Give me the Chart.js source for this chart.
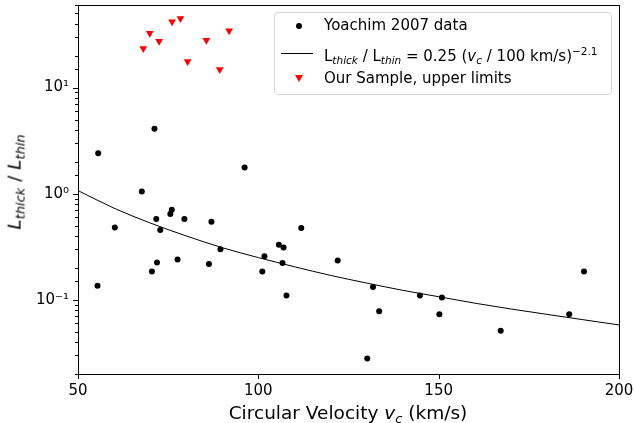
<!DOCTYPE html>
<html>
<head>
<meta charset="utf-8">
<script src="https://cdn.jsdelivr.net/npm/chart.js@4/dist/chart.umd.min.js"></script>
<style>
    html, body { margin: 0; padding: 0; background: #fff; }
    #wrap { position: relative; width: 634px; height: 423px; font-family: 'DejaVu Sans', sans-serif; }
    #chart { position: absolute; left: 0; top: 0; }
    .legend {
        position: absolute; left: 274px; top: 12px; width: 338px; height: 83px;
        border: 1px solid #d6d6d6; border-radius: 4px; background: rgba(255,255,255,0.8);
        box-sizing: border-box; font-size: 15px; color: #000;
    }
    .row { position: absolute; left: 49px; white-space: nowrap; line-height: 17px; }
    .mark { position: absolute; }
    .xlabel { position: absolute; left: 0; width: 696px; top: 402px; text-align: center; font-size: 18.5px; line-height: 21px; }
    .ylabel {
        position: absolute; left: 17px; top: 182px; font-size: 18.5px; line-height: 21px; white-space: nowrap;
        transform: translate(-50%, -50%) rotate(-90deg);
    }
    sub { font-size: 70%; vertical-align: -0.3em; }
    sup { font-size: 70%; vertical-align: 0.55em; }
</style>
</head>
<body>
<div id="wrap">
    <canvas id="chart" width="634" height="423"></canvas>
    <div class="legend">
        <div class="mark" style="left:21px;top:10px;width:6px;height:6px;border-radius:50%;background:#000;"></div>
        <div class="row" style="top:4px;">Yoachim 2007 data</div>
        <div class="mark" style="left:6px;top:40px;width:32px;height:1px;background:#000;"></div>
        <div class="row" style="top:30px;">L<sub><i>thick</i></sub> / L<sub><i>thin</i></sub> = 0.25 (<i>v<sub>c</sub></i> / 100 km/s)<sup>−2.1</sup></div>
        <div class="mark" style="left:20px;top:62px;width:0;height:0;border-left:4px solid transparent;border-right:4px solid transparent;border-top:7px solid #f00;"></div>
        <div class="row" style="top:57px;">Our Sample, upper limits</div>
    </div>
    <div class="xlabel">Circular Velocity <i>v<sub>c</sub></i> (km/s)</div>
    <div class="ylabel"><i>L<sub>thick</sub></i> / <i>L<sub>thin</sub></i></div>
</div>
<script>
// Yoachim 2007 data
const yoachimV = [55.6, 71.2, 67.7, 96.2, 60.2, 55.4, 71.7, 72.8, 70.5, 71.9, 75.6, 76.0, 77.6, 79.5,
    87.0, 86.3, 89.5, 101.1, 101.7, 105.7, 107.0, 106.7, 107.8, 111.9, 122.0, 131.8, 133.5, 130.2,
    144.8, 150.2, 150.9, 167.2, 186.2, 190.3];
const yoachimRatio = [2.4, 4.1, 1.05, 1.77, 0.48, 0.136, 0.577, 0.454, 0.185, 0.225, 0.643, 0.706, 0.24, 0.577,
    0.544, 0.217, 0.30, 0.185, 0.258, 0.33, 0.312, 0.222, 0.11, 0.475, 0.235, 0.132, 0.078, 0.028,
    0.11, 0.073, 0.105, 0.051, 0.073, 0.185];

// our sample, upper limits
const sampleV = [68.1, 69.9, 72.5, 76.1, 78.4, 80.4, 85.6, 89.3, 91.9];
const sampleRatio = [23.3, 32.5, 27.3, 41.7, 44.8, 17.6, 27.9, 14.8, 34.3];

// fitted relation as drawn
const fitV = [50, 60, 70, 80, 90, 100, 110, 120, 130, 140, 150, 160, 170, 180, 190, 200];
const fitRatio = [1.07, 0.73, 0.53, 0.40, 0.31, 0.25, 0.205, 0.17, 0.144, 0.123, 0.107, 0.093, 0.082, 0.073, 0.065, 0.058];

const xTicks = [50, 100, 150, 200];

const toPoints = (xs, ys) => xs.map((x, i) => ({ x, y: ys[i] }));
const isDecade = v => Math.abs(Math.log10(v) - Math.round(Math.log10(v))) < 1e-6;
const supers = { '-': '⁻', '0': '⁰', '1': '¹', '2': '²', '3': '³' };

// pin the plot box where the reference has it
const AREA = { left: 78, top: 5, right: 619, bottom: 374 };

const pinArea = {
    id: 'pinArea',
    afterLayout(chart) {
        const a = chart.chartArea;
        Object.assign(a, AREA);
        a.width = AREA.right - AREA.left;
        a.height = AREA.bottom - AREA.top;
        const { x, y } = chart.scales;
        x.left = AREA.left; x.right = AREA.right; x.width = a.width;
        x.top = AREA.bottom; x.bottom = 423; x.height = 423 - AREA.bottom;
        y.top = AREA.top; y.bottom = AREA.bottom; y.height = a.height;
        y.left = 0; y.right = AREA.left; y.width = AREA.left;
        x.configure(); y.configure();
    }
};

// spines + tick marks in matplotlib style
const frameTicks = {
    id: 'frameTicks',
    afterDraw(chart) {
        const { ctx, chartArea: a, scales } = chart;
        ctx.save();
        ctx.strokeStyle = '#000';
        ctx.lineWidth = 1;
        ctx.strokeRect(Math.round(a.left) + 0.5, Math.round(a.top) + 0.5,
            Math.round(a.right - a.left), Math.round(a.bottom - a.top));
        ctx.beginPath();
        xTicks.forEach(v => {
            const px = Math.round(scales.x.getPixelForValue(v)) + 0.5;
            ctx.moveTo(px, a.bottom);
            ctx.lineTo(px, a.bottom + 5);
        });
        scales.y.ticks.forEach(t => {
            const py = Math.round(scales.y.getPixelForValue(t.value)) + 0.5;
            const len = isDecade(t.value) ? 5 : 3;
            ctx.moveTo(a.left, py);
            ctx.lineTo(a.left - len, py);
        });
        ctx.stroke();
        ctx.restore();
    }
};

new Chart(document.getElementById('chart'), {
    type: 'scatter',
    data: {
        datasets: [
            {
                label: 'Yoachim 2007 data',
                data: toPoints(yoachimV, yoachimRatio),
                backgroundColor: '#000',
                borderColor: '#000',
                pointRadius: 3,
                borderWidth: 0,
                order: 1
            },
            {
                type: 'line',
                label: 'fit',
                data: toPoints(fitV, fitRatio),
                borderColor: '#000',
                borderWidth: 1,
                pointRadius: 0,
                fill: false,
                cubicInterpolationMode: 'monotone',
                order: 2
            },
            {
                label: 'Our Sample, upper limits',
                data: toPoints(sampleV, sampleRatio),
                backgroundColor: '#f00',
                borderColor: '#f00',
                pointStyle: 'triangle',
                rotation: 180,
                pointRadius: 4.5,
                borderWidth: 0,
                order: 0
            }
        ]
    },
    options: {
        responsive: false,
        animation: false,
        plugins: {
            legend: { display: false },
            tooltip: { enabled: false }
        },
        scales: {
            x: {
                type: 'linear',
                min: 50,
                max: 200,
                afterBuildTicks: scale => { scale.ticks = xTicks.map(v => ({ value: v })); },
                grid: { display: false },
                border: { display: false },
                ticks: {
                    color: '#000',
                    padding: 0,
                    font: { family: 'DejaVu Sans', size: 15 },
                    maxRotation: 0
                }
            },
            y: {
                type: 'logarithmic',
                min: 0.02,
                max: 60,
                grid: { display: false },
                border: { display: false },
                ticks: {
                    color: '#000',
                    padding: 1,
                    autoSkip: false,
                    font: { family: 'DejaVu Sans', size: 15 },
                    callback: v => {
                        if (!isDecade(v)) return '';
                        const e = String(Math.round(Math.log10(v)));
                        return '10' + e.split('').map(c => supers[c]).join('');
                    }
                }
            }
        }
    },
    plugins: [pinArea, frameTicks]
});
</script>
</body>
</html>
